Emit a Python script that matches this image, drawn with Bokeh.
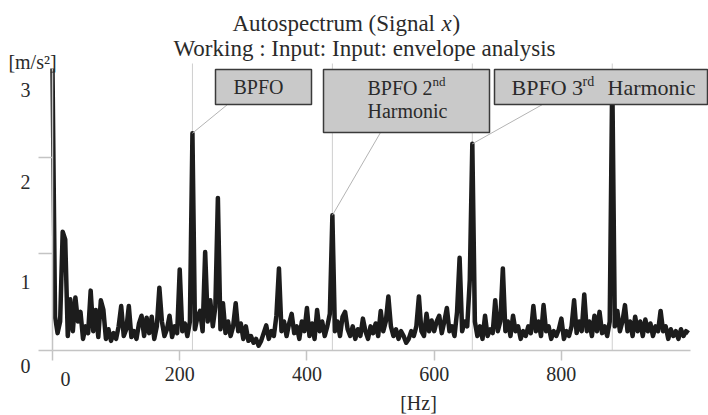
from bokeh.plotting import figure
from bokeh.models import Range1d, Label, BoxAnnotation, FixedTicker, ColumnDataSource
from bokeh.embed import file_html
from bokeh.resources import INLINE

# ---------------- data ----------------
FREQ_STEP_HZ = 4

amp_0_196 = [2.92, 0.35, 0.18, 0.30, 1.23, 1.15, 0.15, 0.53, 0.20, 0.55,
             0.30, 0.40, 0.12, 0.25, 0.18, 0.62, 0.20, 0.42, 0.14, 0.52,
             0.42, 0.12, 0.22, 0.10, 0.18, 0.12, 0.25, 0.46, 0.15, 0.22,
             0.46, 0.14, 0.20, 0.12, 0.28, 0.36, 0.15, 0.34, 0.18, 0.35,
             0.12, 0.25, 0.65, 0.30, 0.15, 0.22, 0.36, 0.14, 0.25, 0.18]
amp_200_396 = [0.84, 0.20, 0.28, 0.15, 0.30, 2.25, 0.22, 0.35, 0.41, 0.20,
               1.02, 0.30, 0.52, 0.25, 0.45, 1.58, 0.22, 0.49, 0.18, 0.30,
               0.15, 0.25, 0.49, 0.20, 0.28, 0.12, 0.25, 0.10, 0.15, 0.08,
               0.12, 0.05, 0.10, 0.18, 0.26, 0.12, 0.20, 0.15, 0.36, 0.85,
               0.20, 0.30, 0.15, 0.28, 0.38, 0.18, 0.25, 0.12, 0.30, 0.20]
amp_400_596 = [0.44, 0.15, 0.28, 0.12, 0.42, 0.20, 0.30, 0.15, 0.25, 0.38,
               1.40, 0.20, 0.30, 0.15, 0.35, 0.40, 0.22, 0.15, 0.25, 0.12,
               0.22, 0.15, 0.33, 0.20, 0.12, 0.25, 0.18, 0.28, 0.15, 0.41,
               0.20, 0.30, 0.56, 0.25, 0.15, 0.22, 0.12, 0.20, 0.15, 0.08,
               0.12, 0.20, 0.15, 0.25, 0.56, 0.20, 0.15, 0.38, 0.20, 0.31]
amp_600_796 = [0.20, 0.30, 0.36, 0.18, 0.30, 0.44, 0.20, 0.25, 0.15, 0.40,
               0.96, 0.20, 0.30, 0.25, 0.73, 2.14, 0.30, 0.15, 0.25, 0.12,
               0.36, 0.15, 0.22, 0.18, 0.52, 0.20, 0.30, 0.85, 0.20, 0.30,
               0.15, 0.36, 0.20, 0.25, 0.12, 0.20, 0.15, 0.25, 0.18, 0.46,
               0.20, 0.30, 0.15, 0.47, 0.20, 0.25, 0.12, 0.20, 0.15, 0.22]
amp_800_1000 = [0.33, 0.12, 0.20, 0.15, 0.25, 0.52, 0.18, 0.30, 0.20, 0.58,
                0.20, 0.30, 0.15, 0.36, 0.20, 0.40, 0.18, 0.25, 0.15, 0.30,
                2.85, 0.25, 0.41, 0.20, 0.30, 0.47, 0.20, 0.30, 0.15, 0.35,
                0.20, 0.30, 0.15, 0.32, 0.20, 0.28, 0.15, 0.25, 0.20, 0.41,
                0.20, 0.25, 0.12, 0.22, 0.15, 0.20, 0.12, 0.22, 0.15, 0.20, 0.18]

amplitude = amp_0_196 + amp_200_396 + amp_400_596 + amp_600_796 + amp_800_1000
freq_hz = [FREQ_STEP_HZ * i for i in range(len(amplitude))]

harmonic_hz = [220, 440, 660, 880]          # BPFO and its harmonics (cursor lines)
labelled_hz = [220, 440, 660]               # peaks with call-out boxes

x_ticks = [0, 200, 400, 600, 800]
y_ticks = [0, 1, 2]
y_label_values = [0, 1, 2, 3]
y_label_texts = ["0", "1", "2", "3"]

title_line1 = "Autospectrum (Signal"
title_var = "x"
title_close = ")"
title_line2 = "Working : Input: Input: envelope analysis"
y_unit = "[m/s\u00b2]"
x_unit = "[Hz]"

# ---------------- style / layout ----------------
W, H = 708, 415
FL, FR, FT, FB = 52, 690, 68, 350      # axis box in px
X_MAX = 1003
Y_MAX = 2.92
SERIF = "Liberation Serif"
TEXT = "#2a2a2a"
AXIS_GREY = "#c4c4c4"

def hz_from_px(px):
    return (px - FL) * X_MAX / (FR - FL)

def amp_from_py(py):
    return (FB - py) * Y_MAX / (FB - FT)

# the frame covers the whole canvas; the axes are pinned at 0 and bounded
p = figure(width=W, height=H,
           x_range=Range1d(hz_from_px(0), hz_from_px(W)),
           y_range=Range1d(amp_from_py(H), amp_from_py(0)),
           output_backend="svg", toolbar_location=None,
           min_border_left=0, min_border_right=0, min_border_top=0, min_border_bottom=0)
p.title.visible = False
p.outline_line_color = None
p.xgrid.visible = False
p.ygrid.visible = False
p.background_fill_color = "white"
p.border_fill_color = "white"

# x axis
xa = p.xaxis[0]
xa.fixed_location = 0
xa.bounds = (0, X_MAX)
xa.ticker = FixedTicker(ticks=x_ticks)
xa.major_label_overrides = {0: ""}
xa.minor_tick_line_color = None
xa.major_tick_in = 0
xa.major_tick_out = 10
xa.axis_line_color = AXIS_GREY
xa.axis_line_width = 1.5
xa.major_tick_line_color = AXIS_GREY
xa.major_tick_line_width = 1.5
xa.major_label_text_font = SERIF
xa.major_label_text_font_size = "20px"
xa.major_label_text_color = TEXT
xa.major_label_standoff = 6

# y axis (labels are placed below their ticks as in the reference)
ya = p.yaxis[0]
ya.fixed_location = 0
ya.bounds = (0, Y_MAX)
ya.ticker = FixedTicker(ticks=y_ticks)
ya.major_label_overrides = {0: "", 1: "", 2: ""}
ya.minor_tick_line_color = None
ya.major_tick_in = 0
ya.major_tick_out = 14
ya.axis_line_color = AXIS_GREY
ya.axis_line_width = 1.5
ya.major_tick_line_color = AXIS_GREY
ya.major_tick_line_width = 1.5

# harmonic cursor lines
p.segment(x0=harmonic_hz, y0=[0] * len(harmonic_hz), x1=harmonic_hz,
          y1=[amp_from_py(63)] * len(harmonic_hz), line_color="#cfcfcf", line_width=1)

# spectrum trace
src = ColumnDataSource(dict(f=freq_hz, a=amplitude))
p.line("f", "a", source=src, line_color="#1c1c1c", line_width=4.5, line_join="round")

# leader lines from boxes to peaks
peak_amp = [amplitude[freq_hz.index(f)] for f in labelled_hz]
leader_px = [(227, 104), (380, 132), (542, 104)]
p.segment(x0=[hz_from_px(a) for a, b in leader_px], y0=[amp_from_py(b) for a, b in leader_px],
          x1=labelled_hz, y1=peak_amp, line_color="#b4b4b4", line_width=1)

# call-out boxes
for (l, r, t, b) in [(215, 311, 69, 104), (323, 489, 69, 132), (494, 707, 69, 104)]:
    p.add_layout(BoxAnnotation(left=hz_from_px(l), right=hz_from_px(r),
                               top=amp_from_py(t), bottom=amp_from_py(b),
                               fill_color="#c9c9c9", fill_alpha=1.0,
                               line_color="#3a3a3a", line_width=1.5, line_alpha=1.0))

def add_text(text, px, py, size, align="center", style="normal"):
    p.add_layout(Label(x=0, y=0, x_offset=px - FL, y_offset=FB - py, text=text,
                       text_font=SERIF, text_font_size=f"{size}px", text_color=TEXT,
                       text_align=align, text_baseline="middle", text_font_style=style))

# titles
add_text(title_line1, 232, 23, 23, align="left")
add_text(title_var, 441, 23, 23, align="left", style="italic")
add_text(title_close, 452, 23, 23, align="left")
add_text(title_line2, 173, 48, 23, align="left")

# units
add_text(y_unit, 32, 61, 20)
add_text(x_unit, 418, 402, 20)

# y tick labels (drawn a little below their ticks, as in the reference)
y_label_drop = [15, 28, 25, 29]
for v, t, d in zip(y_label_values, y_label_texts, y_label_drop):
    p.add_layout(Label(x=0, y=v, x_offset=-27, y_offset=-d, text=t,
                       text_font=SERIF, text_font_size="20px", text_color=TEXT,
                       text_align="center", text_baseline="middle"))
# x tick label "0" (shifted right of its tick in the reference)
add_text("0", 65, 378, 20)

# box texts
add_text("BPFO", 258, 86, 20)
add_text("BPFO 2", 367, 87, 20, align="left")
add_text("nd", 432, 81, 13, align="left")
add_text("Harmonic", 407, 110, 20)
add_text("BPFO 3", 511, 87, 22, align="left")
add_text("rd", 582, 81, 14, align="left")
add_text("Harmonic", 607, 87, 22, align="left")

open("out.html", "w").write(file_html(p, INLINE))
